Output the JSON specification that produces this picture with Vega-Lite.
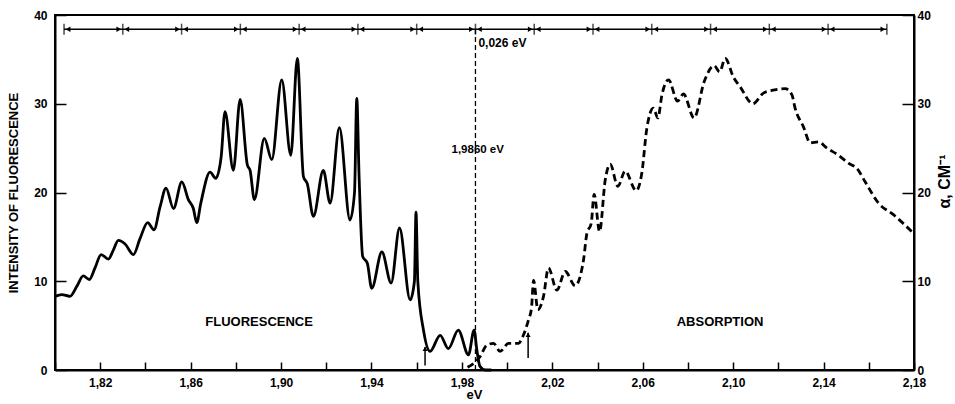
{
 "$schema": "https://vega.github.io/schema/vega-lite/v6.json",
 "width": 859,
 "height": 355,
 "autosize": {"type": "none"},
 "padding": {"left": 55, "top": 15, "right": 41, "bottom": 34},
 "background": "white",
 "config": {
  "view": {"stroke": "black", "strokeWidth": 2},
  "axis": {"labelFont": "Liberation Sans", "labelFontWeight": "bold", "labelFontSize": 12, "labelColor": "black", "titleFont": "Liberation Sans", "titleFontWeight": "bold", "titleColor": "black", "domainColor": "black", "domainWidth": 2, "tickColor": "black", "tickWidth": 1.5, "grid": false},
  "text": {"font": "Liberation Sans", "fontWeight": "bold", "color": "black"}
 },
 "datasets": {
  "fluor": [
   {"eV": 1.800, "v": 8.3}, {"eV": 1.803, "v": 8.5}, {"eV": 1.8066, "v": 8.3}, {"eV": 1.8096, "v": 9.4},
   {"eV": 1.8125, "v": 10.6}, {"eV": 1.8152, "v": 10.2}, {"eV": 1.8177, "v": 11.5}, {"eV": 1.8204, "v": 13.0},
   {"eV": 1.8236, "v": 12.5}, {"eV": 1.8258, "v": 13.5}, {"eV": 1.828, "v": 14.6}, {"eV": 1.831, "v": 14.2},
   {"eV": 1.8347, "v": 13.0}, {"eV": 1.8376, "v": 14.8}, {"eV": 1.841, "v": 16.6}, {"eV": 1.8438, "v": 15.8},
   {"eV": 1.8465, "v": 18.4}, {"eV": 1.8491, "v": 20.5}, {"eV": 1.8524, "v": 18.2}, {"eV": 1.8561, "v": 21.2},
   {"eV": 1.859, "v": 19.2}, {"eV": 1.8612, "v": 18.2}, {"eV": 1.8627, "v": 16.6}, {"eV": 1.8645, "v": 18.8},
   {"eV": 1.8686, "v": 22.3}, {"eV": 1.8711, "v": 21.6}, {"eV": 1.8735, "v": 24.0}, {"eV": 1.8752, "v": 29.1},
   {"eV": 1.8789, "v": 22.5}, {"eV": 1.8819, "v": 30.5}, {"eV": 1.8851, "v": 23.1}, {"eV": 1.8863, "v": 22.5},
   {"eV": 1.8882, "v": 19.2}, {"eV": 1.8926, "v": 26.1}, {"eV": 1.8959, "v": 23.7}, {"eV": 1.9003, "v": 32.7},
   {"eV": 1.9043, "v": 24.2}, {"eV": 1.9072, "v": 35.1}, {"eV": 1.9099, "v": 21.8}, {"eV": 1.9116, "v": 21.0},
   {"eV": 1.9143, "v": 17.3}, {"eV": 1.9187, "v": 22.5}, {"eV": 1.9217, "v": 18.8}, {"eV": 1.9258, "v": 27.3},
   {"eV": 1.9305, "v": 16.9}, {"eV": 1.9325, "v": 20.0}, {"eV": 1.9335, "v": 30.6}, {"eV": 1.9345, "v": 22.0},
   {"eV": 1.9361, "v": 12.8}, {"eV": 1.9382, "v": 12.0}, {"eV": 1.9401, "v": 9.2}, {"eV": 1.9446, "v": 13.3},
   {"eV": 1.9487, "v": 9.8}, {"eV": 1.9524, "v": 16.0}, {"eV": 1.9571, "v": 7.9}, {"eV": 1.959, "v": 10.0},
   {"eV": 1.9597, "v": 17.8}, {"eV": 1.9605, "v": 10.0}, {"eV": 1.963, "v": 4.5}, {"eV": 1.9659, "v": 2.1},
   {"eV": 1.9704, "v": 3.9}, {"eV": 1.974, "v": 2.4}, {"eV": 1.9784, "v": 4.5}, {"eV": 1.9829, "v": 1.7},
   {"eV": 1.9854, "v": 4.5}, {"eV": 1.9866, "v": 2.3}, {"eV": 1.988, "v": 0.4}, {"eV": 1.9903, "v": 0.0},
   {"eV": 1.993, "v": 0.0}
  ],
  "absorp": [
   {"eV": 1.9825, "a": 0.3}, {"eV": 1.9855, "a": 0.8}, {"eV": 1.988, "a": 1.5}, {"eV": 1.991, "a": 2.8},
   {"eV": 1.994, "a": 3.0}, {"eV": 1.9969, "a": 2.1}, {"eV": 2.0006, "a": 3.0}, {"eV": 2.005, "a": 3.0},
   {"eV": 2.007, "a": 3.8}, {"eV": 2.0094, "a": 5.6}, {"eV": 2.0108, "a": 7.0}, {"eV": 2.0117, "a": 10.1},
   {"eV": 2.0136, "a": 6.8}, {"eV": 2.0161, "a": 8.3}, {"eV": 2.0183, "a": 11.5}, {"eV": 2.022, "a": 9.0},
   {"eV": 2.0257, "a": 11.1}, {"eV": 2.0301, "a": 9.5}, {"eV": 2.0338, "a": 12.4}, {"eV": 2.0353, "a": 15.4},
   {"eV": 2.0372, "a": 16.5}, {"eV": 2.0385, "a": 19.8}, {"eV": 2.0409, "a": 15.6}, {"eV": 2.0434, "a": 21.4},
   {"eV": 2.0456, "a": 23.2}, {"eV": 2.049, "a": 20.7}, {"eV": 2.0522, "a": 22.4}, {"eV": 2.0571, "a": 20.2},
   {"eV": 2.0596, "a": 22.2}, {"eV": 2.0618, "a": 27.2}, {"eV": 2.0647, "a": 29.5}, {"eV": 2.0667, "a": 28.4},
   {"eV": 2.0685, "a": 31.0}, {"eV": 2.0714, "a": 32.7}, {"eV": 2.0754, "a": 30.3}, {"eV": 2.078, "a": 31.1},
   {"eV": 2.0827, "a": 28.4}, {"eV": 2.0872, "a": 32.5}, {"eV": 2.0916, "a": 34.3}, {"eV": 2.094, "a": 33.6},
   {"eV": 2.0965, "a": 35.1}, {"eV": 2.1001, "a": 33.0}, {"eV": 2.1031, "a": 31.9}, {"eV": 2.1087, "a": 30.0},
   {"eV": 2.1134, "a": 31.2}, {"eV": 2.1171, "a": 31.5}, {"eV": 2.123, "a": 31.7}, {"eV": 2.126, "a": 31.0},
   {"eV": 2.1274, "a": 29.5}, {"eV": 2.1311, "a": 27.4}, {"eV": 2.1341, "a": 25.6}, {"eV": 2.1377, "a": 25.7},
   {"eV": 2.1415, "a": 25.0}, {"eV": 2.1466, "a": 24.2}, {"eV": 2.151, "a": 23.3}, {"eV": 2.1548, "a": 22.7},
   {"eV": 2.1584, "a": 21.2}, {"eV": 2.1643, "a": 18.8}, {"eV": 2.1709, "a": 17.5}, {"eV": 2.1798, "a": 15.4}
  ],
  "marks": [
   {"eV": 1.804, "v": 38.4, "left": false, "right": true},
   {"eV": 1.830, "v": 38.4, "left": true, "right": true},
   {"eV": 1.856, "v": 38.4, "left": true, "right": true},
   {"eV": 1.882, "v": 38.4, "left": true, "right": true},
   {"eV": 1.908, "v": 38.4, "left": true, "right": true},
   {"eV": 1.934, "v": 38.4, "left": true, "right": true},
   {"eV": 1.960, "v": 38.4, "left": true, "right": true},
   {"eV": 1.986, "v": 38.4, "left": true, "right": true},
   {"eV": 2.012, "v": 38.4, "left": true, "right": true},
   {"eV": 2.038, "v": 38.4, "left": true, "right": true},
   {"eV": 2.064, "v": 38.4, "left": true, "right": true},
   {"eV": 2.090, "v": 38.4, "left": true, "right": true},
   {"eV": 2.116, "v": 38.4, "left": true, "right": true},
   {"eV": 2.142, "v": 38.4, "left": true, "right": true},
   {"eV": 2.168, "v": 38.4, "left": true, "right": false}
  ],
  "span": [{"eV": 1.804, "eV2": 2.168, "v": 38.4}],
  "vline": [{"eV": 1.986, "v": 0, "v2": 38.4}],
  "uparrows": [{"eV": 1.9637, "v": 0.5, "v2": 2.6}, {"eV": 2.0093, "v": 1.35, "v2": 4.2}]
 },
 "layer": [
  {
   "layer": [
    {
     "data": {"name": "fluor"},
     "mark": {"type": "line", "color": "black", "strokeWidth": 2.8, "interpolate": "monotone"},
     "encoding": {
      "x": {"field": "eV", "type": "quantitative", "scale": {"domain": [1.80, 2.18], "nice": false, "zero": false},
       "axis": {"values": [1.80, 1.82, 1.84, 1.86, 1.88, 1.90, 1.92, 1.94, 1.96, 1.98, 2.00, 2.02, 2.04, 2.06, 2.08, 2.10, 2.12, 2.14, 2.16, 2.18],
        "labelExpr": "round(datum.value*100) % 4 == 2 ? replace(format(datum.value, '.2f'), '.', ',') : ''",
        "tickSize": -8, "labelPadding": 15, "title": "eV", "titleFontSize": 13, "titlePadding": 0, "titleX": 419, "labelFlush": false}},
      "y": {"field": "v", "type": "quantitative", "scale": {"domain": [0, 40], "nice": false},
       "axis": {"values": [0, 10, 20, 30, 40], "tickSize": -11, "labelPadding": 19, "title": "INTENSITY OF FLUORESCENCE", "titleFontSize": 13, "titlePadding": 13}}
     }
    },
    {
     "data": {"name": "vline"},
     "mark": {"type": "rule", "color": "black", "strokeWidth": 1.3, "strokeDash": [5, 3]},
     "encoding": {"x": {"field": "eV", "type": "quantitative"}, "y": {"field": "v", "type": "quantitative"}, "y2": {"field": "v2"}}
    },
    {
     "data": {"name": "span"},
     "mark": {"type": "rule", "color": "black", "strokeWidth": 1.6},
     "encoding": {"x": {"field": "eV", "type": "quantitative"}, "x2": {"field": "eV2"}, "y": {"field": "v", "type": "quantitative"}}
    },
    {
     "data": {"name": "marks"},
     "mark": {"type": "tick", "orient": "vertical", "color": "black", "size": 11, "thickness": 1.5},
     "encoding": {"x": {"field": "eV", "type": "quantitative"}, "y": {"field": "v", "type": "quantitative"}}
    },
    {
     "data": {"name": "marks"},
     "transform": [{"filter": "datum.left"}],
     "mark": {"type": "point", "shape": "triangle-right", "filled": true, "color": "black", "opacity": 1, "size": 30, "xOffset": -4},
     "encoding": {"x": {"field": "eV", "type": "quantitative"}, "y": {"field": "v", "type": "quantitative"}}
    },
    {
     "data": {"name": "marks"},
     "transform": [{"filter": "datum.right"}],
     "mark": {"type": "point", "shape": "triangle-left", "filled": true, "color": "black", "opacity": 1, "size": 30, "xOffset": 4},
     "encoding": {"x": {"field": "eV", "type": "quantitative"}, "y": {"field": "v", "type": "quantitative"}}
    },
    {
     "data": {"name": "uparrows"},
     "mark": {"type": "rule", "color": "black", "strokeWidth": 1.5},
     "encoding": {"x": {"field": "eV", "type": "quantitative"}, "y": {"field": "v", "type": "quantitative"}, "y2": {"field": "v2"}}
    },
    {
     "data": {"name": "uparrows"},
     "transform": [{"calculate": "datum.v2", "as": "v"}],
     "mark": {"type": "point", "shape": "triangle-up", "filled": true, "color": "black", "opacity": 1, "size": 25, "yOffset": 2},
     "encoding": {"x": {"field": "eV", "type": "quantitative"}, "y": {"field": "v", "type": "quantitative"}}
    },
    {
     "data": {"values": [{"eV": 1.9873, "v": 36.8, "t": "0,026 eV"}]},
     "mark": {"type": "text", "align": "left", "baseline": "middle", "fontSize": 12},
     "encoding": {"x": {"field": "eV", "type": "quantitative"}, "y": {"field": "v", "type": "quantitative"}, "text": {"field": "t"}}
    },
    {
     "data": {"values": [{"eV": 1.987, "v": 24.8, "t": "1,9860 eV"}]},
     "mark": {"type": "text", "align": "center", "baseline": "middle", "fontSize": 11.5},
     "encoding": {"x": {"field": "eV", "type": "quantitative"}, "y": {"field": "v", "type": "quantitative"}, "text": {"field": "t"}}
    },
    {
     "data": {"values": [{"eV": 1.8903, "v": 5.4, "t": "FLUORESCENCE"}, {"eV": 2.0942, "v": 5.4, "t": "ABSORPTION"}]},
     "mark": {"type": "text", "align": "center", "baseline": "middle", "fontSize": 13},
     "encoding": {"x": {"field": "eV", "type": "quantitative"}, "y": {"field": "v", "type": "quantitative"}, "text": {"field": "t"}}
    }
   ]
  },
  {
   "data": {"name": "absorp"},
   "mark": {"type": "line", "color": "black", "strokeWidth": 2.8, "strokeDash": [7, 4], "interpolate": "monotone"},
   "encoding": {
    "x": {"field": "eV", "type": "quantitative"},
    "y": {"field": "a", "type": "quantitative", "scale": {"domain": [0, 40], "nice": false},
     "axis": {"orient": "right", "values": [0, 10, 20, 30, 40], "tickSize": -12, "labelPadding": 15, "title": "α, CM⁻¹", "titleFontSize": 16, "titleAngle": 270, "titlePadding": 22, "titleY": 166}}
   }
  }
 ],
 "resolve": {"scale": {"y": "independent"}}
}
